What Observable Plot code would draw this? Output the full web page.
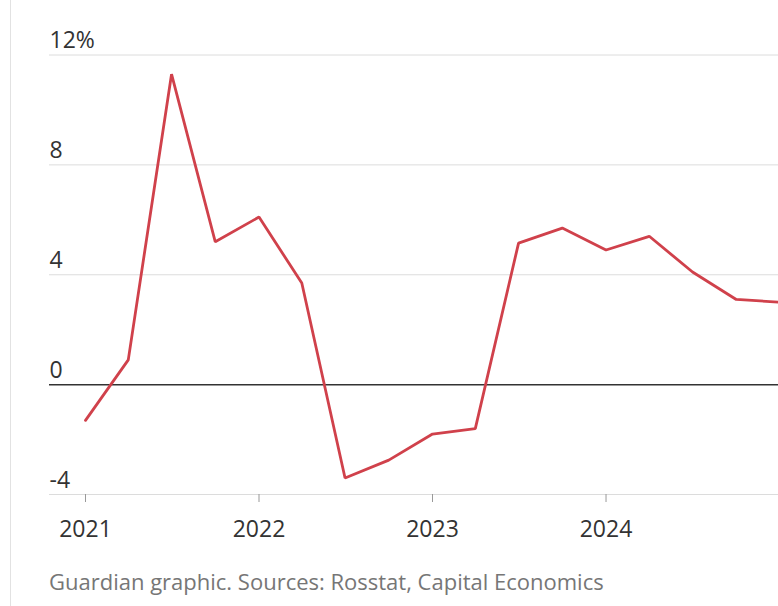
<!DOCTYPE html>
<html>
<head>
<meta charset="utf-8">
<script src="https://cdn.jsdelivr.net/npm/d3@7"></script>
<script src="https://cdn.jsdelivr.net/npm/@observablehq/plot@0.6"></script>
<style>
  html, body { margin: 0; padding: 0; background: #fff; overflow: hidden; }
  #wrap { position: relative; width: 778px; height: 606px; }
  #border { position: absolute; left: 10px; top: 0; width: 1px; height: 606px; background: #e2e2e2; }
  #chart { position: absolute; left: 0; top: 0; }
  #caption { position: absolute; left: 49px; top: 566px; font-family: "Open Sans", sans-serif; font-size: 22px; color: #767676; white-space: nowrap; }
</style>
</head>
<body>
<div id="wrap">
  <div id="border"></div>
  <div id="chart"></div>
  <div id="caption">Guardian graphic. Sources: Rosstat, Capital Economics</div>
</div>
<script>
const quarters = ["2021-01-01","2021-04-01","2021-07-01","2021-10-01",
                  "2022-01-01","2022-04-01","2022-07-01","2022-10-01",
                  "2023-01-01","2023-04-01","2023-07-01","2023-10-01",
                  "2024-01-01","2024-04-01","2024-07-01","2024-10-01",
                  "2025-01-01"];
const growth = [-1.3, 0.9, 11.3, 5.2,
                6.1, 3.7, -3.4, -2.75,
                -1.8, -1.6, 5.15, 5.7,
                4.9, 5.4, 4.1, 3.1,
                3.0];
const yTicks = [-4, 0, 4, 8, 12];
const xTickYears = ["2021-01-01","2022-01-01","2023-01-01","2024-01-01"];

const data = quarters.map((q, i) => ({date: new Date(q), value: growth[i]}));
const xTicks = xTickYears.map(d => new Date(d));

const chart = Plot.plot({
  width: 778,
  height: 560,
  marginLeft: 49,
  marginRight: 0,
  marginTop: 54.5,
  marginBottom: 66,
  style: {fontFamily: "'Open Sans', sans-serif", fontSize: "23px", color: "#333", background: "transparent", overflow: "visible"},
  x: {type: "utc", domain: [new Date("2021-01-01"), new Date("2025-01-01")], range: [85, 779.5], label: null},
  y: {domain: [-4, 12], label: null},
  marks: [
    Plot.ruleY(yTicks.filter(d => d !== 0), {stroke: "#dcdcdc", strokeWidth: 1}),
    Plot.axisY({ticks: yTicks, tickSize: 0, tickPadding: 0, textAnchor: "start", lineAnchor: "bottom", dy: -7,
      fill: "#333", fontSize: 23, label: null,
      tickFormat: d => d === 12 ? "12%" : String(d)}),
    Plot.axisX({ticks: xTicks, tickSize: 8, tickPadding: 18, stroke: "#999", fill: "#333", fontSize: 23, label: null,
      tickFormat: d => String(d.getUTCFullYear())}),
    Plot.ruleY([0], {stroke: "#333", strokeWidth: 1.5}),
    Plot.line(data, {x: "date", y: "value", stroke: "#d0414b", strokeWidth: 2.8, strokeLinejoin: "miter"})
  ]
});
document.getElementById("chart").appendChild(chart);
</script>
</body>
</html>
